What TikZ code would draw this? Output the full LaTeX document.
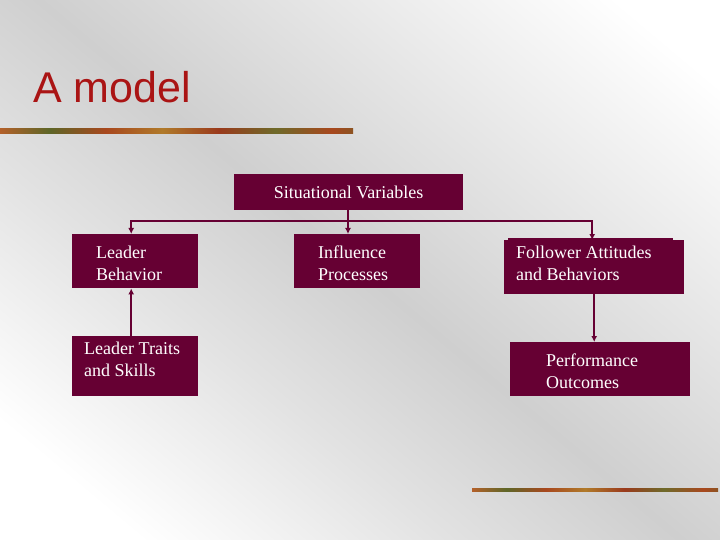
\documentclass[tikz,border=0pt]{standalone}
\usepackage{fontspec}
\setmainfont{Liberation Serif}
\newfontfamily\titlefont{Liberation Sans}
\usetikzlibrary{arrows.meta}
\definecolor{maroon}{HTML}{660033}
\definecolor{titlered}{HTML}{AA1414}
\definecolor{bgray}{HTML}{CFCFCF}
\definecolor{bgmid}{HTML}{E2E2E2}
\definecolor{barA}{HTML}{B07A2A}
\definecolor{barB}{HTML}{6E6A2A}
\definecolor{barC}{HTML}{9A3A1C}
\definecolor{barD}{HTML}{C0602A}
\definecolor{barE}{HTML}{5E6628}
\definecolor{barF}{HTML}{A8481E}
\pgfdeclarehorizontalshading{texbar}{100bp}{color(0bp)=(barA); color(8bp)=(barB); color(16bp)=(barC); color(24bp)=(barD); color(32bp)=(barE); color(40bp)=(barF); color(48bp)=(barA); color(56bp)=(barC); color(64bp)=(barB); color(72bp)=(barF); color(80bp)=(barE); color(88bp)=(barC); color(100bp)=(barA)}
\pgfdeclareverticalshading{bgshade}{100bp}{color(0bp)=(white); color(22bp)=(white); color(38bp)=(bgmid); color(50bp)=(bgray); color(62bp)=(bgmid); color(80bp)=(white); color(100bp)=(white)}
\tikzset{
  box/.style={fill=maroon, draw=none, inner sep=0pt, anchor=north west},
  boxtext/.style={text=white, inner sep=0pt, align=left, font=\fontsize{18}{22}\selectfont},
  conn/.style={draw=maroon, line width=2pt, arrows={-Latex[length=6pt,width=6pt]}},
}
\begin{document}
\begin{tikzpicture}[x=1pt,y=-1pt]
\useasboundingbox (0,0) rectangle (720,540);
\shade[shading=bgshade, shading angle=-40] (0,0) rectangle (720,540);
% decorative bars
\shade[shading=texbar] (0,129) rectangle (353,134);
\shade[shading=texbar] (472,488) rectangle (718,491);
% title
\node[anchor=base west, inner sep=0pt, text=titlered, font=\titlefont\fontsize{43}{43}\selectfont] (title) at (33,103) {A model};
% boxes
\node[box, minimum width=229, minimum height=36] (sv) at (234,174) {};
\node[boxtext, anchor=center] (svt) at (sv.center) {Situational Variables};
\node[box, minimum width=126, minimum height=54] (lb) at (72,234) {};
\node[boxtext, anchor=west] (lbt) at (96,263) {Leader\\Behavior};
\node[box, minimum width=126, minimum height=54] (ip) at (294,234) {};
\node[boxtext, anchor=west] (ipt) at (318,263) {Influence\\Processes};
\fill[maroon] (508,238) rectangle (673,242);
\node[box, minimum width=180, minimum height=54] (fa) at (504,240) {};
\node[boxtext, anchor=west] (fat) at (516,263) {Follower Attitudes\\and Behaviors};
\node[box, minimum width=126, minimum height=60] (lts) at (72,336) {};
\node[boxtext, anchor=west] (ltst) at (84,359) {Leader Traits\\and Skills};
\node[box, minimum width=180, minimum height=54] (po) at (510,342) {};
\node[boxtext, anchor=west] (pot) at (546,371) {Performance\\Outcomes};
% connectors
\coordinate (j) at (348,221);
\draw[conn] (sv.south -| j) -- (j |- ip.north);
\draw[conn, arrows={Latex[length=6pt,width=6pt]-Latex[length=6pt,width=6pt]}] ([xshift=-4pt]lb.north) |- (j) -| ([xshift=-2pt]fa.north);
\draw[conn] ([xshift=-4pt]lts.north) -- ([xshift=-4pt]lb.south);
\draw[conn] (fa.south) -- (fa.south |- po.north);
\end{tikzpicture}
\end{document}
